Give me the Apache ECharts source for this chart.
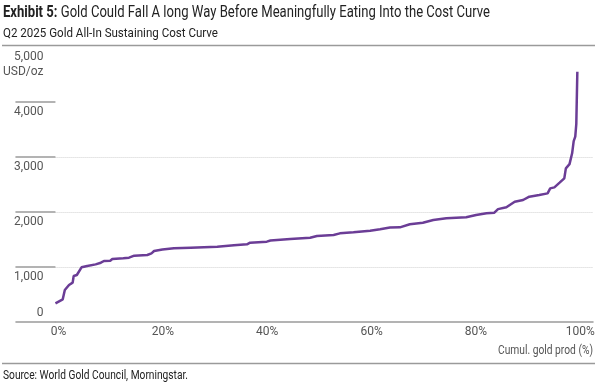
<!DOCTYPE html>
<html>
<head>
<meta charset="utf-8">
<script src="https://cdn.jsdelivr.net/npm/echarts@6/dist/echarts.min.js"></script>
<style>
html,body{margin:0;padding:0;background:#fff;}
#chart{width:602px;height:383px;}
</style>
</head>
<body>
<div id="chart"></div>
<script>
// Cumulative gold production (%)
const cumProd = [0, 1.4, 1.8, 2.6, 3.3, 3.5, 4.1, 5.0, 6.1, 7.7, 8.7, 9.3, 10.5, 10.9, 13.0, 14.1, 15.1, 17.6, 18.4, 18.9, 20.5, 22.7, 25.9, 31.0, 34.2, 36.7, 37.3, 40.5, 41.2, 43.1, 45.0, 48.8, 50.1, 53.3, 54.5, 57.1, 60.3, 62.2, 64.1, 66.0, 67.9, 70.4, 72.4, 74.9, 78.7, 80.6, 82.6, 84.1, 84.8, 86.4, 88.0, 89.6, 90.8, 92.7, 94.3, 94.8, 95.6, 96.6, 97.5, 97.8, 98.5, 99.0, 99.3, 99.6, 99.8, 100];
// All-in sustaining cost (USD/oz)
const aisc = [340, 413, 582, 673, 715, 836, 855, 994, 1018, 1048, 1078, 1109, 1115, 1145, 1158, 1170, 1206, 1218, 1248, 1290, 1320, 1339, 1352, 1370, 1394, 1412, 1442, 1461, 1482, 1497, 1509, 1533, 1564, 1582, 1612, 1630, 1660, 1685, 1718, 1721, 1776, 1806, 1855, 1885, 1903, 1945, 1976, 1988, 2052, 2085, 2188, 2218, 2279, 2309, 2339, 2430, 2448, 2533, 2612, 2794, 2870, 3067, 3290, 3370, 3600, 4550];
const xTicks = [0, 20, 40, 60, 80, 100];
const yTicks = [0, 1000, 2000, 3000, 4000, 5000];

const titleBold = 'Exhibit 5:';
const titleText = 'Gold Could Fall A long Way Before Meaningfully Eating Into the Cost Curve';
const subTitle = 'Q2 2025 Gold All-In Sustaining Cost Curve';
const yUnit = 'USD/oz';
const xName = 'Cumul. gold prod (%)';
const source = 'Source: World Gold Council, Morningstar.';

const FONT = "Roboto, 'DejaVu Sans', sans-serif";
const TEXT = '#222';
const AXIS = '#555';

// measure text to emulate the condensed face of the original with a horizontal scale
const ctx = document.createElement('canvas').getContext('2d');
function measure(str, size, weight) {
  ctx.font = (weight || 'normal') + ' ' + size + 'px ' + FONT;
  return ctx.measureText(str).width;
}
function fit(width, target) { return target / width; }

const titleW = measure(titleBold, 16, 'bold') + measure(' ' + titleText, 16, 'normal');
const sTitle = fit(titleW, 487);
const sSub = fit(measure(subTitle, 13.5), 215);
const sSrc = fit(measure(source, 12.5), 185);
const sName = fit(measure(xName, 12.5), 95);

const chart = echarts.init(document.getElementById('chart'), null, {renderer: 'canvas'});
const fmt = v => v.toLocaleString('en-US');

chart.setOption({
  animation: false,
  backgroundColor: '#fff',
  textStyle: {fontFamily: FONT},
  graphic: [
    {type: 'line', shape: {x1: 2, y1: 45.5, x2: 595, y2: 45.5}, style: {stroke: '#9a9a9a', lineWidth: 1.5}, silent: true},
    {type: 'line', shape: {x1: 2, y1: 363.5, x2: 595, y2: 363.5}, style: {stroke: '#9a9a9a', lineWidth: 1.5}, silent: true},
    {
      type: 'text', x: 3, y: 13, scaleX: sTitle, silent: true,
      style: {
        text: '{b|' + titleBold + '}{r| ' + titleText + '}',
        textVerticalAlign: 'middle',
        rich: {
          b: {fontFamily: FONT, fontSize: 16, fontWeight: 'bold', fill: TEXT},
          r: {fontFamily: FONT, fontSize: 16, fontWeight: 'normal', fill: TEXT}
        }
      }
    },
    {
      type: 'text', x: 3, y: 34, scaleX: sSub, silent: true,
      style: {text: subTitle, fontFamily: FONT, fontSize: 13.5, fill: TEXT, textVerticalAlign: 'middle'}
    },
    {
      type: 'text', x: 3, y: 375.5, scaleX: sSrc, silent: true,
      style: {text: source, fontFamily: FONT, fontSize: 12.5, fill: TEXT, textVerticalAlign: 'middle'}
    },
    {
      type: 'text', x: 593, y: 350.5, scaleX: sName, silent: true,
      style: {text: xName, fontFamily: FONT, fontSize: 12.5, fill: AXIS, textAlign: 'right', textVerticalAlign: 'middle'}
    }
  ],
  grid: {left: 54, right: 9, top: 47, bottom: 61, containLabel: false},
  xAxis: {
    type: 'value',
    min: 0, max: 103,
    axisLine: {show: true, lineStyle: {color: '#9a9a9a', width: 1.5}},
    axisTick: {show: false},
    splitLine: {show: false},
    axisLabel: {
      customValues: xTicks,
      formatter: v => v + '%',
      margin: 4,
      fontFamily: FONT, fontSize: 12, color: AXIS,
      padding: [0, 0, 0, 6]
    }
  },
  yAxis: [
    {
      type: 'value',
      min: 0, max: 5000, interval: 1000,
      offset: 11,
      axisLine: {show: false},
      axisTick: {show: true, customValues: yTicks.slice(0, 5), length: 40, lineStyle: {color: '#9a9a9a', width: 1.5}},
      splitLine: {show: true, showMinLine: false, showMaxLine: false, lineStyle: {color: '#d0d0d0', type: 'dotted', width: 1}},
      axisLabel: {
        margin: 1,
        fontFamily: FONT, fontSize: 12, color: AXIS,
        verticalAlign: 'top', lineHeight: 15,
        padding: [2, 0, 0, 0],
        formatter: v => v === 0 ? '' : (v === 5000 ? fmt(v) + '\n' + yUnit : fmt(v))
      }
    },
    {
      type: 'value',
      min: 0, max: 5000, interval: 1000,
      offset: 11,
      position: 'left',
      axisLine: {show: false},
      axisTick: {show: false},
      splitLine: {show: false},
      axisLabel: {
        margin: 1,
        fontFamily: FONT, fontSize: 12, color: AXIS,
        verticalAlign: 'bottom',
        padding: [0, 0, 3, 0],
        formatter: v => v === 0 ? '0' : ''
      }
    }
  ],
  series: [{
    type: 'line',
    data: cumProd.map((x, i) => [x, aisc[i]]),
    showSymbol: false,
    lineStyle: {color: '#6B3D96', width: 2.5},
    itemStyle: {color: '#6B3D96'}
  }]
});
</script>
</body>
</html>
